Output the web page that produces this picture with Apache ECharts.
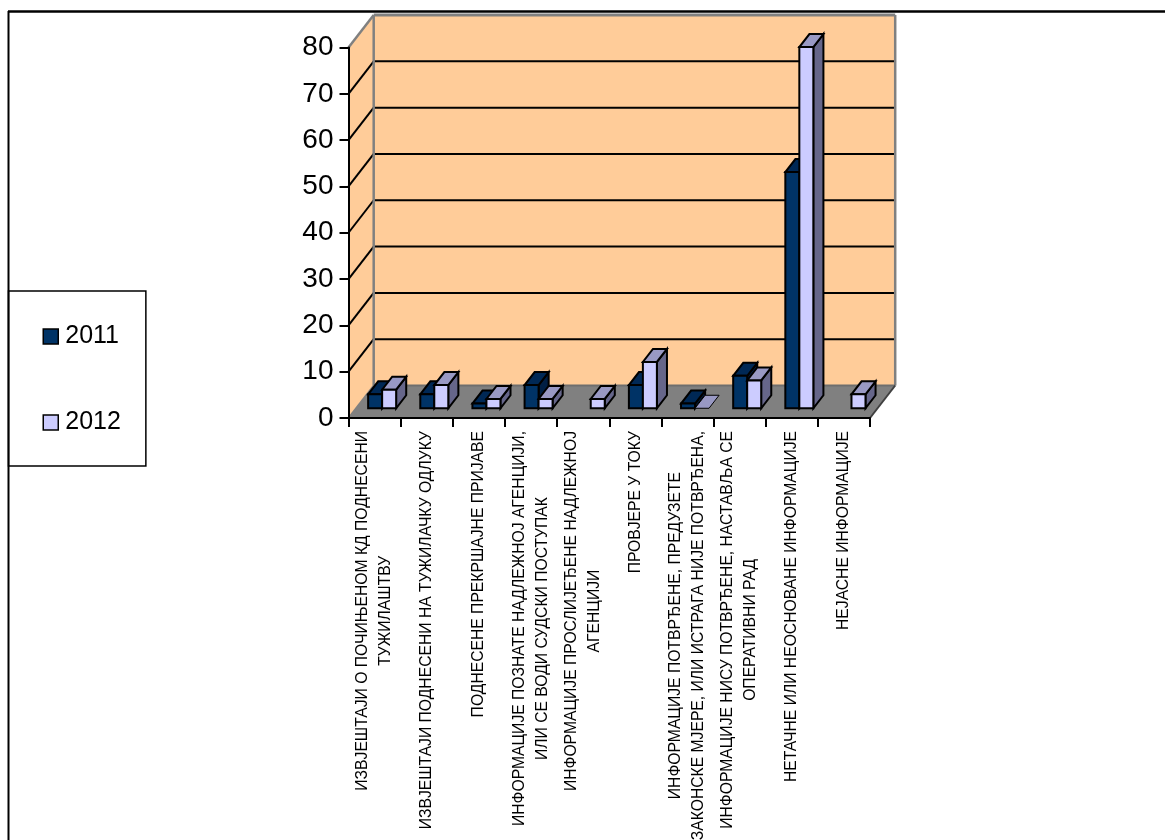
<!DOCTYPE html>
<html><head><meta charset="utf-8">
<style>html,body{margin:0;padding:0;background:#fff}#c{width:1165px;height:840px}</style>
<script src="https://cdn.jsdelivr.net/npm/echarts@6/dist/echarts.min.js"></script>
</head><body><div id="c"></div>
<script>
const categories = [
 "ИЗВЈЕШТАЈИ О ПОЧИЊЕНОМ КД ПОДНЕСЕНИ\nТУЖИЛАШТВУ",
 "ИЗВЈЕШТАЈИ ПОДНЕСЕНИ НА ТУЖИЛАЧКУ ОДЛУКУ",
 "ПОДНЕСЕНЕ ПРЕКРШАЈНЕ ПРИЈАВЕ",
 "ИНФОРМАЦИЈЕ ПОЗНАТЕ НАДЛЕЖНОЈ АГЕНЦИЈИ,\nИЛИ СЕ ВОДИ СУДСКИ ПОСТУПАК",
 "ИНФОРМАЦИЈЕ ПРОСЛИЈЕЂЕНЕ НАДЛЕЖНОЈ\nАГЕНЦИЈИ",
 "ПРОВЈЕРЕ У ТОКУ",
 "ИНФОРМАЦИЈЕ ПОТВРЂЕНЕ, ПРЕДУЗЕТЕ\nЗАКОНСКЕ МЈЕРЕ, ИЛИ ИСТРАГА НИЈЕ ПОТВРЂЕНА,",
 "ИНФОРМАЦИЈЕ НИСУ ПОТВРЂЕНЕ, НАСТАВЉА СЕ\nОПЕРАТИВНИ РАД",
 "НЕТАЧНЕ ИЛИ НЕОСНОВАНЕ ИНФОРМАЦИЈЕ",
 "НЕЈАСНЕ ИНФОРМАЦИЈЕ"
];
const values2011 = [3, 3, 1, 5, null, 5, 1, 7, 51, null];
const values2012 = [4, 5, 2, 2, 2, 10, 0, 6, 78, 3];
const yTicks = [0, 10, 20, 30, 40, 50, 60, 70, 80];

const FONT = '"Liberation Sans", Arial, sans-serif';
const DX = 25.2, DY = 32.5;          // depth of the 3D box in pixels
const BAR_FRONT = 0.3, BAR_DEPTH = 0.4, BAR_W = 14;

function poly(points, fill, stroke, lw) {
  return {type: 'polygon', shape: {points},
    style: {fill, stroke: stroke || 'none', lineWidth: lw || 0, lineJoin: 'miter'}};
}
function line(a, b, stroke, lw) {
  return {type: 'line', shape: {x1: a[0], y1: a[1], x2: b[0], y2: b[1]},
    style: {stroke, lineWidth: lw, lineCap: 'butt'}};
}
function wallsItem(params, api) {
  const cs = params.coordSys;
  const L = cs.x, R = cs.x + cs.width, T = cs.y, B = cs.y + cs.height;
  const kids = [
    poly([[L + DX, T - DY], [R + DX, T - DY], [R + DX, B - DY], [L + DX, B - DY]], '#FFCC99'),
    poly([[L, T], [L + DX, T - DY], [L + DX, B - DY], [L, B]], '#FFCC99'),
    poly([[L, B], [L + DX, B - DY], [R + DX, B - DY], [R, B]], '#808080')
  ];
  yTicks.forEach(t => {
    if (t === 0) return;
    const y = api.coord([0, t])[1];
    if (t !== 80) {
      kids.push(line([L, y], [L + DX, y - DY], '#000', 2));
      kids.push(line([L + DX, y - DY], [R + DX, y - DY], '#000', 2));
    }
  });
  kids.push(line([L, T], [L + DX, T - DY], '#808080', 2.5));
  kids.push(line([L + DX, T - DY], [R + DX, T - DY], '#808080', 3));
  kids.push(line([L + DX, T - DY], [L + DX, B - DY], '#808080', 2.5));
  kids.push(line([R + DX, T - DY], [R + DX, B - DY], '#808080', 2.5));
  kids.push(line([L, B], [L + DX, B - DY], '#808080', 2));
  kids.push(line([L + DX, B - DY], [R + DX, B - DY], '#6e6e6e', 2));
  kids.push(line([R, B], [R + DX, B - DY], '#404040', 2));
  return {type: 'group', children: kids};
}
function barItem(seriesIdx, front, top, side) {
  return function (params, api) {
    const v = api.value(1);
    if (v === null || v === undefined || isNaN(v)) return null;
    const i = api.value(0);
    const base = api.coord([i, 0]);
    const tip = api.coord([i, v]);
    const fx = DX * BAR_FRONT, fy = DY * BAR_FRONT;
    const dx = DX * BAR_DEPTH, dy = DY * BAR_DEPTH;
    const x0 = base[0] - BAR_W + seriesIdx * BAR_W + fx;
    const x1 = x0 + BAR_W;
    const yb = base[1] - fy;
    const yt = tip[1] - fy;
    const sw = 2;
    const kids = [];
    if (v > 0) {
      kids.push(poly([[x1, yt], [x1 + dx, yt - dy], [x1 + dx, yb - dy], [x1, yb]], side, '#000', sw));
    }
    kids.push(poly([[x0, yt], [x1, yt], [x1 + dx, yt - dy], [x0 + dx, yt - dy]], top, '#000', v > 0 ? sw : 1));
    if (v > 0) {
      kids.push(poly([[x0, yt], [x1, yt], [x1, yb], [x0, yb]], front, '#000', sw));
    }
    return {type: 'group', children: kids};
  };
}

const chart = echarts.init(document.getElementById('c'), null, {renderer: 'canvas'});
chart.setOption({
  animation: false,
  backgroundColor: '#fff',
  tooltip: {show: false},
  graphic: [
    {type: 'line', z: 100, shape: {x1: 8, y1: 11.5, x2: 1165, y2: 11.5}, style: {stroke: '#000', lineWidth: 2.5}},
    {type: 'line', z: 100, shape: {x1: 8.5, y1: 11, x2: 8.5, y2: 840}, style: {stroke: '#000', lineWidth: 2}}
  ],
  legend: {
    show: true, orient: 'vertical', left: 8.5, top: 291,
    padding: [33, 25, 31, 34], itemWidth: 15, itemHeight: 15, itemGap: 61,
    borderColor: '#000', borderWidth: 1.5, backgroundColor: '#fff',
    textStyle: {fontFamily: FONT, fontSize: 25, color: '#000', padding: [0, 0, 0, 2]},
    data: [
      {name: '2011', icon: 'rect', itemStyle: {color: '#003366', borderColor: '#000', borderWidth: 1.5}},
      {name: '2012', icon: 'rect', itemStyle: {color: '#CCCCFF', borderColor: '#000', borderWidth: 1.5}}
    ]
  },
  grid: {left: 348.5, right: 295, top: 47.5, bottom: 422, containLabel: false, outerBoundsMode: 'none'},
  xAxis: {
    type: 'category', data: categories, z: 5, boundaryGap: true,
    axisLine: {show: true, lineStyle: {color: '#000', width: 2}},
    axisTick: {show: true, alignWithLabel: false, length: 9, lineStyle: {color: '#000', width: 2}},
    axisLabel: {
      interval: 0, rotate: 90, margin: 13, align: 'right', verticalAlign: 'middle', hideOverlap: false,
      formatter: v => v.split('\n').map(l => '{c|' + l + '}').join('\n'),
      rich: {c: {align: 'center', fontFamily: FONT, fontSize: 15.7, lineHeight: 23, color: '#000'}}
    },
    splitLine: {show: false}
  },
  yAxis: {
    type: 'value', min: 0, max: 80, interval: 10, z: 5,
    axisLine: {show: true, lineStyle: {color: '#000', width: 2}},
    axisTick: {show: true, length: 9, lineStyle: {color: '#000', width: 2}},
    axisLabel: {fontFamily: FONT, fontSize: 28, color: '#000', margin: 15},
    splitLine: {show: false}
  },
  series: [
    {name: 'walls', type: 'custom', clip: false, silent: true, z: 1, renderItem: wallsItem, data: [[0, 0]], encode: {x: 0, y: 1}},
    {name: '2011', type: 'custom', clip: false, z: 2, renderItem: barItem(0, '#003366', '#002855', '#001F44'),
      itemStyle: {color: '#003366'}, data: values2011.map((v, i) => [i, v]), encode: {x: 0, y: 1}},
    {name: '2012', type: 'custom', clip: false, z: 3, renderItem: barItem(1, '#CCCCFF', '#9999C4', '#66668A'),
      itemStyle: {color: '#CCCCFF'}, data: values2012.map((v, i) => [i, v]), encode: {x: 0, y: 1}}
  ]
});
</script></body></html>
